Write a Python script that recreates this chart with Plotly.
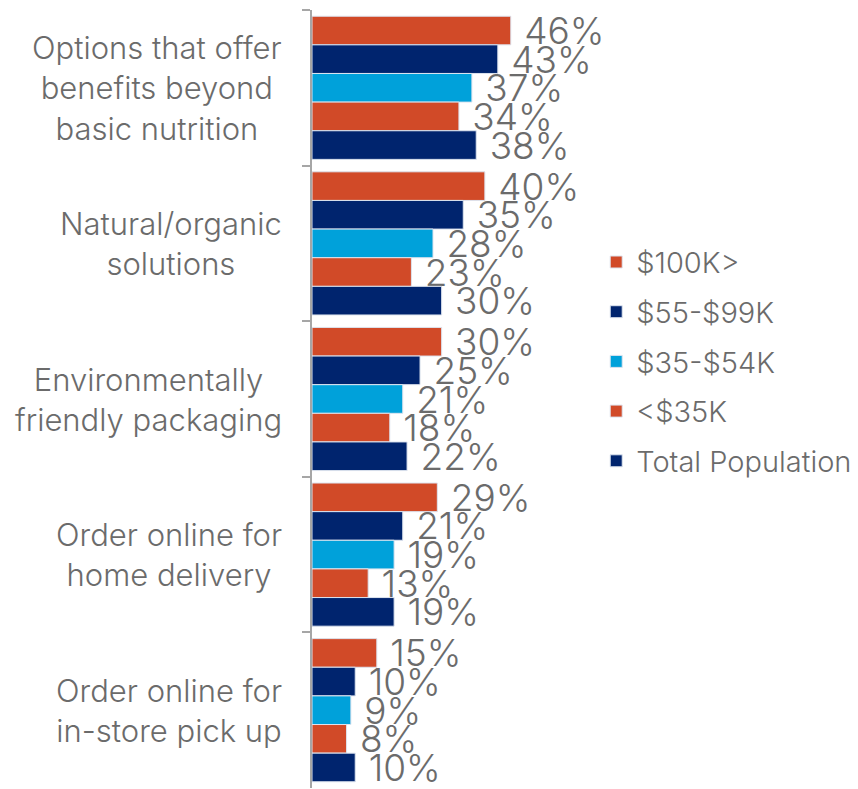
import plotly.graph_objects as go

categories = [
    "Options that offer<br>benefits beyond<br>basic nutrition",
    "Natural/organic<br>solutions",
    "Environmentally<br>friendly packaging",
    "Order online for<br>home delivery",
    "Order online for<br>in-store pick up",
]
series_names = ["$100K>", "$55-$99K", "$35-$54K", "<$35K", "Total Population"]
income_100k = [46, 40, 30, 29, 15]
income_55_99k = [43, 35, 25, 21, 10]
income_35_54k = [37, 28, 21, 19, 9]
income_under_35k = [34, 23, 18, 13, 8]
total_population = [38, 30, 22, 19, 10]
series_values = [income_100k, income_55_99k, income_35_54k, income_under_35k, total_population]
colors = ["#D14A28", "#00246E", "#00A1DA", "#D14A28", "#00246E"]

GRAY = "#6b6b6b"
FONT = "Inter"
WEIGHT = 350

fig = go.Figure()
for i, (name, vals, col) in enumerate(zip(series_names, series_values, colors)):
    fig.add_trace(go.Bar(
        name=name,
        y=categories,
        x=vals,
        orientation="h",
        marker=dict(color=col, line=dict(color="#dde4ef", width=1)),
        text=[f"&nbsp;{v}%" for v in vals],
        textposition="outside",
        constraintext="none",
        cliponaxis=False,
        textfont=dict(family=FONT, size=37, color=GRAY, weight=WEIGHT),
        legendgroup=f"g{i}",
    ))

# centred multi-line category labels to the left of the axis
for cat in categories:
    fig.add_annotation(
        x=0, xref="paper", xanchor="right", xshift=-28,
        y=cat, yref="y", yanchor="middle",
        text=cat, showarrow=False, align="center",
        font=dict(family=FONT, size=31, color=GRAY, weight=WEIGHT),
    )

fig.update_layout(
    width=858, height=789,
    margin=dict(l=312, r=250, t=10, b=1),
    paper_bgcolor="white", plot_bgcolor="white",
    barmode="group", bargap=0.08, bargroupgap=0,
    showlegend=True,
    legend=dict(
        x=0.97, xanchor="left", y=0.548, yanchor="middle",
        font=dict(family=FONT, size=29, color=GRAY, weight=WEIGHT),
        tracegroupgap=9, itemwidth=30,
    ),
    xaxis=dict(range=[0, 67.8], visible=False),
    yaxis=dict(
        autorange="reversed",
        showticklabels=False,
        showline=True, linecolor="#a6a6a6", linewidth=2,
        ticks="outside", ticklen=8, tickcolor="#a6a6a6", tickwidth=2,
        tickson="boundaries", showgrid=False,
    ),
)

fig.write_html("out.html")
